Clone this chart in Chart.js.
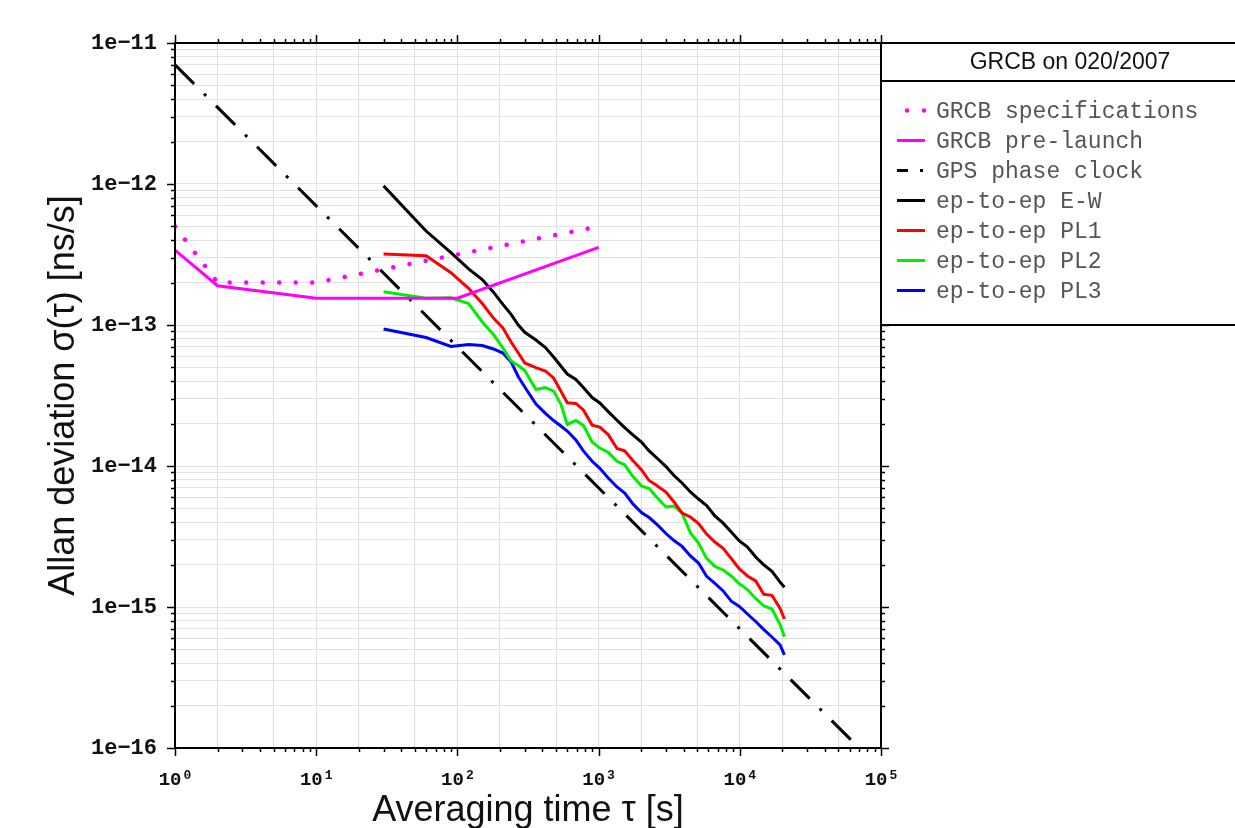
<!DOCTYPE html>
<html>
<head>
<meta charset="utf-8">
<script src="https://cdn.jsdelivr.net/npm/chart.js@4.4.1/dist/chart.umd.min.js"></script>
<style>
  html, body { margin: 0; padding: 0; background: #fff; }
  #wrap { width: 1235px; height: 828px; position: relative; }
</style>
</head>
<body>
<div id="wrap"><canvas id="adev"></canvas></div>
<script>
// --- values ---
const specTau = [1, 2, 10, 1000];
const specSigma = [5e-13, 2e-13, 2e-13, 5e-13];

const preTau = [1, 2, 10, 100, 1000];
const preSigma = [3.4e-13, 1.9e-13, 1.55e-13, 1.55e-13, 3.55e-13];

const gpsTau = [1, 1e5];
const gpsSigma = [7e-12, 7e-17];

const epTau = [30, 60, 90, 120, 150, 180, 210, 240, 270, 300, 360, 420, 480, 540, 600, 690, 780, 900,
  1020, 1170, 1350, 1530, 1740, 2010, 2280, 2610, 3000, 3420, 3900, 4470, 5100, 5820, 6660, 7620,
  8700, 9930, 11340, 12960, 14790, 16890, 19290, 20700];

const ewSigma = [9.7e-13, 4.64e-13, 3.26e-13, 2.50e-13, 2.10e-13, 1.71e-13, 1.40e-13, 1.19e-13, 1.00e-13, 8.87e-14,
  7.83e-14, 6.91e-14, 5.93e-14, 5.12e-14, 4.49e-14, 4.11e-14, 3.60e-14, 3.06e-14, 2.80e-14, 2.43e-14,
  2.11e-14, 1.87e-14, 1.67e-14, 1.48e-14, 1.28e-14, 1.13e-14, 9.90e-15, 8.56e-15, 7.58e-15, 6.54e-15,
  5.83e-15, 5.25e-15, 4.42e-15, 3.93e-15, 3.40e-15, 2.94e-15, 2.66e-15, 2.26e-15, 1.99e-15, 1.79e-15,
  1.50e-15, 1.38e-15];

const pl1Sigma = [3.19e-13, 3.10e-13, 2.35e-13, 1.82e-13, 1.42e-13, 1.12e-13, 9.52e-14, 7.58e-14, 6.33e-14, 5.38e-14,
  4.99e-14, 4.72e-14, 4.21e-14, 3.40e-14, 2.81e-14, 2.78e-14, 2.50e-14, 1.95e-14, 1.89e-14, 1.67e-14,
  1.33e-14, 1.28e-14, 1.10e-14, 9.40e-15, 7.89e-15, 7.22e-15, 6.54e-15, 5.56e-15, 4.64e-15, 4.35e-15,
  3.91e-15, 3.29e-15, 2.89e-15, 2.61e-15, 2.21e-15, 1.86e-15, 1.66e-15, 1.53e-15, 1.23e-15, 1.21e-15,
  9.76e-16, 8.22e-16];

const pl2Sigma = [1.72e-13, 1.55e-13, 1.56e-13, 1.42e-13, 1.05e-13, 8.56e-14, 6.87e-14, 5.56e-14, 5.16e-14, 4.76e-14,
  3.49e-14, 3.60e-14, 3.40e-14, 2.75e-14, 1.97e-14, 2.10e-14, 1.94e-14, 1.48e-14, 1.34e-14, 1.25e-14,
  1.08e-14, 1.02e-14, 8.49e-15, 7.22e-15, 6.92e-15, 5.93e-15, 5.12e-15, 5.20e-15, 4.64e-15, 3.35e-15,
  2.84e-15, 2.21e-15, 1.94e-15, 1.83e-15, 1.66e-15, 1.46e-15, 1.33e-15, 1.15e-15, 1.02e-15, 9.68e-16,
  7.51e-16, 6.16e-16];

const pl3Sigma = [9.37e-14, 8.15e-14, 7.04e-14, 7.27e-14, 7.15e-14, 6.76e-14, 6.33e-14, 5.47e-14, 4.30e-14, 3.63e-14,
  2.75e-14, 2.36e-14, 2.10e-14, 1.92e-14, 1.77e-14, 1.53e-14, 1.28e-14, 1.08e-14, 9.63e-15, 8.22e-15,
  7.10e-15, 6.43e-15, 5.42e-15, 4.68e-15, 4.31e-15, 3.82e-15, 3.32e-15, 2.96e-15, 2.69e-15, 2.30e-15,
  2.05e-15, 1.65e-15, 1.47e-15, 1.30e-15, 1.10e-15, 1.01e-15, 8.92e-16, 7.89e-16, 6.92e-16, 6.13e-16,
  5.38e-16, 4.57e-16];

const xTickBase = '10';
const xTickExponents = ['0', '1', '2', '3', '4', '5'];
const yTickLabels = ['1e\u221216', '1e\u221215', '1e\u221214', '1e\u221213', '1e\u221212', '1e\u221211'];
const legendTitle = 'GRCB on 020/2007';

// --- helpers ---
const pts = (xs, ys) => xs.map((x, i) => ({ x, y: ys[i] }));
const expOf = v => Math.round(Math.log10(v));
const isMajor = v => Math.abs(Math.log10(v) - expOf(v)) < 1e-9;
const mant = v => Math.round(v / Math.pow(10, Math.floor(Math.log10(v) + 1e-9)));
const MONO = '"Liberation Mono", "Courier New", monospace';
const SANS = '"Liberation Sans", Arial, sans-serif';

function decadeTicks(lo, hi) {
  const out = [];
  for (let e = lo; e < hi; e++) {
    for (let m = 1; m <= 9; m++) out.push({ value: m * Math.pow(10, e) });
  }
  out.push({ value: Math.pow(10, hi) });
  return out;
}

// --- frame, outward tick marks and 10^n labels ---
const frameTicks = {
  id: 'frameTicks',
  afterDraw(chart) {
    const { ctx, chartArea: a, scales: { x, y } } = chart;
    ctx.save();
    ctx.strokeStyle = '#000';
    ctx.lineWidth = 1.5;
    ctx.beginPath();
    x.ticks.forEach(t => {
      const px = Math.round(x.getPixelForValue(t.value)) + 0.5;
      const len = isMajor(t.value) ? 8 : 4;
      ctx.moveTo(px, a.top); ctx.lineTo(px, a.top - len);
      ctx.moveTo(px, a.bottom); ctx.lineTo(px, a.bottom + len);
    });
    y.ticks.forEach(t => {
      const py = Math.round(y.getPixelForValue(t.value)) + 0.5;
      const len = isMajor(t.value) ? 8 : 4;
      ctx.moveTo(a.left, py); ctx.lineTo(a.left - len, py);
      ctx.moveTo(a.right, py); ctx.lineTo(a.right + len, py);
    });
    ctx.stroke();
    ctx.lineWidth = 2;
    ctx.strokeRect(a.left, a.top, a.right - a.left, a.bottom - a.top);

    // x labels as 10 with a raised exponent
    ctx.fillStyle = '#111';
    ctx.textBaseline = 'alphabetic';
    ctx.textAlign = 'left';
    x.ticks.filter(t => isMajor(t.value)).forEach(t => {
      const sup = xTickExponents[expOf(t.value)];
      ctx.font = 'bold 19px ' + MONO;
      const wb = ctx.measureText(xTickBase).width;
      ctx.font = 'bold 13px ' + MONO;
      const ws = ctx.measureText(sup).width;
      const x0 = x.getPixelForValue(t.value) - (wb + ws + 2) / 2;
      ctx.font = 'bold 19px ' + MONO;
      ctx.fillText(xTickBase, x0, a.bottom + 37);
      ctx.font = 'bold 13px ' + MONO;
      ctx.fillText(sup, x0 + wb + 2, a.bottom + 31);
    });
    ctx.restore();
  }
};

// --- boxed legend to the right ---
const legendBox = {
  id: 'legendBox',
  afterDraw(chart) {
    const { ctx, chartArea: a } = chart;
    const left = a.right, top = a.top, right = chart.width + 5, bottom = 325, sep = 81;
    ctx.save();
    ctx.fillStyle = '#fff';
    ctx.fillRect(left + 1, top + 1, right - left, bottom - top - 2);
    ctx.strokeStyle = '#000';
    ctx.lineWidth = 2;
    ctx.strokeRect(left, top, right - left, bottom - top);
    ctx.beginPath(); ctx.moveTo(left, sep); ctx.lineTo(right, sep); ctx.stroke();

    ctx.fillStyle = '#111';
    ctx.font = '23px ' + SANS;
    ctx.textAlign = 'center';
    ctx.textBaseline = 'middle';
    ctx.fillText(legendTitle, 1070, 63);

    ctx.font = '23px ' + MONO;
    ctx.textAlign = 'left';
    chart.data.datasets.forEach((ds, i) => {
      const yy = 110.5 + i * 30;
      const seg = ds.legendSeg || [897, 925];
      ctx.strokeStyle = ds.borderColor;
      ctx.lineWidth = ds.borderWidth;
      ctx.lineCap = ds.borderCapStyle || 'butt';
      ctx.setLineDash(ds.legendDash || []);
      ctx.beginPath(); ctx.moveTo(seg[0], yy); ctx.lineTo(seg[1], yy); ctx.stroke();
      ctx.setLineDash([]);
      ctx.fillStyle = '#555';
      ctx.fillText(ds.label, 936, yy + 1);
    });
    ctx.restore();
  }
};

const lineDefaults = { pointRadius: 0, tension: 0, fill: false, borderWidth: 3 };

new Chart(document.getElementById('adev'), {
  type: 'line',
  data: {
    datasets: [
      { ...lineDefaults, label: 'GRCB specifications', data: pts(specTau, specSigma), borderColor: '#ff00ff',
        borderWidth: 4.5, borderDash: [0.01, 16.5], borderCapStyle: 'round',
        legendDash: [0.01, 17], legendSeg: [907, 926] },
      { ...lineDefaults, label: 'GRCB pre-launch', data: pts(preTau, preSigma), borderColor: '#ff00ff' },
      { ...lineDefaults, label: 'GPS phase clock', data: pts(gpsTau, gpsSigma), borderColor: '#000',
        borderDash: [27, 14, 3, 14], legendDash: [11, 12, 3, 100] },
      { ...lineDefaults, label: 'ep-to-ep E-W', data: pts(epTau, ewSigma), borderColor: '#000' },
      { ...lineDefaults, label: 'ep-to-ep PL1', data: pts(epTau, pl1Sigma), borderColor: '#ff0000' },
      { ...lineDefaults, label: 'ep-to-ep PL2', data: pts(epTau, pl2Sigma), borderColor: '#00ee00' },
      { ...lineDefaults, label: 'ep-to-ep PL3', data: pts(epTau, pl3Sigma), borderColor: '#0000ff' }
    ]
  },
  options: {
    responsive: true,
    maintainAspectRatio: false,
    animation: false,
    layout: { padding: { left: 0, top: 43, right: 354, bottom: 0 } },
    plugins: { legend: { display: false }, tooltip: { enabled: false } },
    scales: {
      x: {
        type: 'logarithmic',
        min: 1, max: 1e5,
        afterBuildTicks: s => { s.ticks = decadeTicks(0, 5); },
        afterFit: s => { s.height = 80; },
        grid: {
          drawTicks: false,
          lineWidth: 1,
          color: c => (c.tick && [1, 2, 5].includes(mant(c.tick.value))) ? '#dedede' : 'rgba(0,0,0,0)'
        },
        border: { display: false },
        ticks: { display: false, autoSkip: false },
        title: {
          display: true, text: 'Averaging time \u03c4 [s]', color: '#111',
          font: { family: SANS, size: 36 },
          padding: { top: 0, bottom: -5 }
        }
      },
      y: {
        type: 'logarithmic',
        min: 1e-16, max: 1e-11,
        afterBuildTicks: s => { s.ticks = decadeTicks(-16, -11); },
        afterFit: s => { s.width = 175; },
        grid: { drawTicks: false, lineWidth: 1, color: '#e2e2e2' },
        border: { display: false },
        ticks: {
          autoSkip: false, padding: 18, color: '#111',
          font: { family: MONO, size: 22, weight: 'bold' },
          callback: v => isMajor(v) ? yTickLabels[expOf(v) + 16] : ''
        },
        title: {
          display: true, text: 'Allan deviation \u03c3(\u03c4) [ns/s]', color: '#111',
          font: { family: SANS, size: 36 },
          padding: { top: 42, bottom: 0 }
        }
      }
    }
  },
  plugins: [frameTicks, legendBox]
});
</script>
</body>
</html>
